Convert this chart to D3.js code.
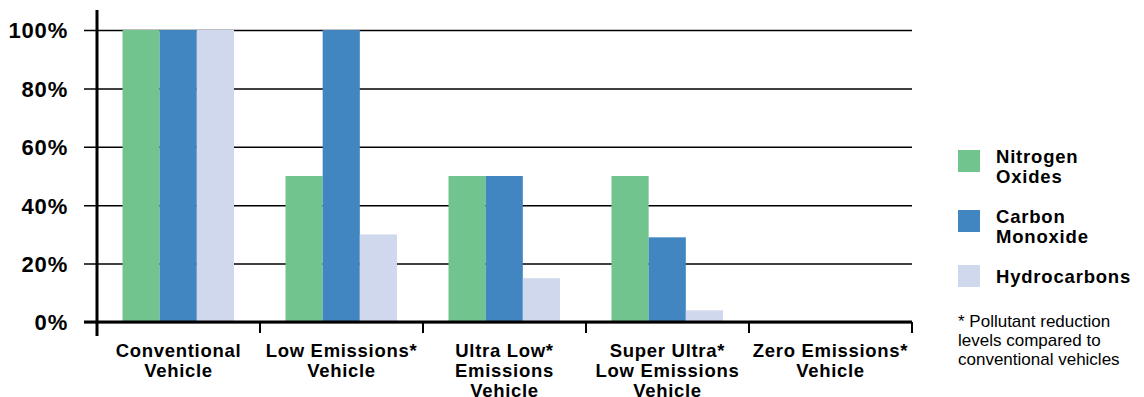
<!DOCTYPE html>
<html>
<head>
<meta charset="utf-8">
<script src="https://cdn.jsdelivr.net/npm/d3@7"></script>
<style>
  html, body { margin: 0; padding: 0; background: #fff; }
  svg { display: block; font-family: "Liberation Sans", Arial, Helvetica, sans-serif; }
</style>
</head>
<body>
<svg id="chart" width="1144" height="397"></svg>
<script>
// Vehicle classes and their two/three-line axis captions
const categories = [
  "Conventional Vehicle",
  "Low Emissions* Vehicle",
  "Ultra Low* Emissions Vehicle",
  "Super Ultra* Low Emissions Vehicle",
  "Zero Emissions* Vehicle"
];
const categoryLines = [
  ["Conventional", "Vehicle"],
  ["Low Emissions*", "Vehicle"],
  ["Ultra Low*", "Emissions", "Vehicle"],
  ["Super Ultra*", "Low Emissions", "Vehicle"],
  ["Zero Emissions*", "Vehicle"]
];

// Pollutant series (percent of conventional vehicle levels)
const series = ["Nitrogen Oxides", "Carbon Monoxide", "Hydrocarbons"];
const seriesLines = [["Nitrogen", "Oxides"], ["Carbon", "Monoxide"], ["Hydrocarbons"]];
const nitrogenOxides = [100, 50, 50, 50, 0];
const carbonMonoxide = [100, 100, 50, 29, 0];
const hydrocarbons   = [100, 30, 15, 4, 0];
const seriesColors = ["#72c48f", "#4186c1", "#cfd8ed"];

const yTicks = [0, 20, 40, 60, 80, 100];
const footnote = ["* Pollutant reduction", "levels compared to", "conventional vehicles"];

const values = [nitrogenOxides, carbonMonoxide, hydrocarbons];
const rows = categories.map((c, i) => ({
  category: c,
  vals: series.map((s, j) => ({ series: s, value: values[j][i], color: seriesColors[j] }))
}));

const svg = d3.select("#chart");

const plotLeft = 97, plotRight = 912, gridLeft = 84;
const y = d3.scaleLinear().domain([0, 100]).range([322, 30]);
const x0 = d3.scaleBand().domain(categories).range([plotLeft, plotRight]).padding(0);
const x1 = d3.scaleBand().domain(series).range([25.5, 137]).padding(0);

// Horizontal gridlines with percentage labels
const gridAxis = d3.axisLeft(y)
  .tickValues(yTicks)
  .tickSize(plotRight - gridLeft)
  .tickPadding(16)
  .tickFormat(d => d + "%");

const gy = svg.append("g")
  .attr("transform", `translate(${plotRight},0)`)
  .call(gridAxis);
gy.select(".domain").remove();
gy.selectAll(".tick line").attr("stroke", "#000").attr("stroke-width", 1.5);
gy.selectAll(".tick text")
  .attr("fill", "#000")
  .style("font-size", "22px")
  .style("font-weight", "bold")
  .style("letter-spacing", "0.8px")
  .attr("dy", "0.36em");

// Bars
const groups = svg.append("g").selectAll("g")
  .data(rows)
  .join("g")
  .attr("transform", d => `translate(${x0(d.category)},0)`);

groups.selectAll("rect")
  .data(d => d.vals)
  .join("rect")
  .attr("x", d => x1(d.series))
  .attr("width", x1.bandwidth())
  .attr("y", d => y(d.value))
  .attr("height", d => y(0) - y(d.value))
  .attr("fill", d => d.color);

// Baseline and vertical axis
svg.append("line")
  .attr("x1", gridLeft).attr("x2", plotRight)
  .attr("y1", y(0)).attr("y2", y(0))
  .attr("stroke", "#000").attr("stroke-width", 3);

svg.append("line")
  .attr("x1", plotLeft).attr("x2", plotLeft)
  .attr("y1", 10).attr("y2", 336)
  .attr("stroke", "#000").attr("stroke-width", 3);

// Separator ticks between vehicle classes
svg.append("g").selectAll("line")
  .data(categories)
  .join("line")
  .attr("x1", d => x0(d) + x0.bandwidth())
  .attr("x2", d => x0(d) + x0.bandwidth())
  .attr("y1", y(0)).attr("y2", y(0) + 11)
  .attr("stroke", "#000").attr("stroke-width", 2);

// Category captions
const capG = svg.append("g").selectAll("text")
  .data(categories)
  .join("text")
  .attr("x", d => x0(d) + x0.bandwidth() / 2)
  .attr("y", 357)
  .attr("text-anchor", "middle")
  .attr("fill", "#000")
  .style("font-size", "18.5px")
  .style("font-weight", "bold")
  .style("letter-spacing", "0.7px");

capG.selectAll("tspan")
  .data((d, i) => categoryLines[i])
  .join("tspan")
  .attr("x", function () { return d3.select(this.parentNode).attr("x"); })
  .attr("dy", (d, i) => i === 0 ? 0 : 20)
  .text(d => d);

// Legend
const legendTop = [150, 210, 265];
const legend = svg.append("g").selectAll("g")
  .data(series)
  .join("g")
  .attr("transform", (d, i) => `translate(958,${legendTop[i]})`);

legend.append("rect")
  .attr("width", 22).attr("height", 22)
  .attr("fill", (d, i) => seriesColors[i]);

legend.append("text")
  .attr("x", 38)
  .attr("y", (d, i) => seriesLines[i].length > 1 ? 13 : 18)
  .attr("fill", "#000")
  .style("font-size", "18.5px")
  .style("font-weight", "bold")
  .style("letter-spacing", "0.8px")
  .selectAll("tspan")
  .data((d, i) => seriesLines[i])
  .join("tspan")
  .attr("x", 38)
  .attr("dy", (d, i) => i === 0 ? 0 : 20)
  .text(d => d);

// Footnote
svg.append("text")
  .attr("x", 958)
  .attr("y", 327)
  .attr("fill", "#000")
  .style("font-size", "17px")
  .selectAll("tspan")
  .data(footnote)
  .join("tspan")
  .attr("x", 958)
  .attr("dy", (d, i) => i === 0 ? 0 : 19)
  .text(d => d);
</script>
</body>
</html>
